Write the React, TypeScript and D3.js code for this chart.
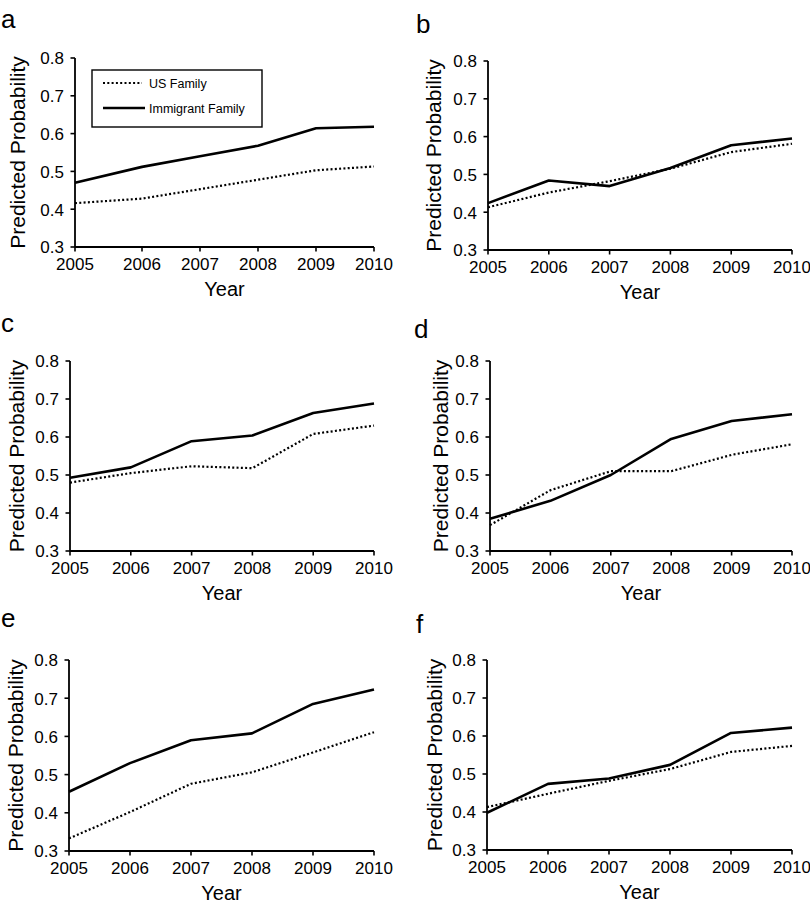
import React from "react";
import * as d3 from "d3";

// ---- data ----
const years = [2005, 2006, 2007, 2008, 2009, 2010];
const yTicks = [0.3, 0.4, 0.5, 0.6, 0.7, 0.8];
const seriesNames = ["US Family", "Immigrant Family"];

const usA = [0.416, 0.428, 0.453, 0.478, 0.503, 0.513];
const immA = [0.47, 0.512, 0.54, 0.568, 0.614, 0.618];
const usB = [0.413, 0.452, 0.482, 0.515, 0.559, 0.581];
const immB = [0.424, 0.484, 0.469, 0.517, 0.577, 0.595];
const usC = [0.48, 0.505, 0.523, 0.518, 0.608, 0.63];
const immC = [0.493, 0.52, 0.589, 0.604, 0.663, 0.688];
const usD = [0.368, 0.46, 0.51, 0.51, 0.553, 0.581];
const immD = [0.385, 0.432, 0.5, 0.595, 0.642, 0.66];
const usE = [0.333, 0.402, 0.476, 0.506, 0.558, 0.611];
const immE = [0.455, 0.53, 0.59, 0.608, 0.685, 0.723];
const usF = [0.413, 0.448, 0.482, 0.513, 0.558, 0.574];
const immF = [0.398, 0.474, 0.488, 0.524, 0.608, 0.622];

const panelLabels = ["a", "b", "c", "d", "e", "f"];
const usSeries = [usA, usB, usC, usD, usE, usF];
const immSeries = [immA, immB, immC, immD, immE, immF];

// ---- layout (pixels) ----
type Layout = {
  left: number; right: number; top: number; bottom: number;
  x2006?: number; labelX: number; labelY: number; yLabelOffset: number;
};
const layouts: Layout[] = [
  { left: 75, right: 374, top: 58, bottom: 247, x2006: 142, labelX: 1, labelY: 28, yLabelOffset: 50 },
  { left: 488, right: 792, top: 61, bottom: 250, labelX: 416, labelY: 33, yLabelOffset: 47 },
  { left: 70, right: 374, top: 361, bottom: 551, labelX: 1, labelY: 332, yLabelOffset: 46 },
  { left: 490, right: 792, top: 361, bottom: 551, labelX: 414, labelY: 338, yLabelOffset: 42 },
  { left: 69, right: 374, top: 660, bottom: 851, labelX: 1, labelY: 627, yLabelOffset: 46 },
  { left: 487, right: 792, top: 660, bottom: 850, labelX: 416, labelY: 633, yLabelOffset: 45 },
];

const FONT = "'Liberation Sans', Arial, sans-serif";
const DOT = "2 2.3";

function Panel({ idx }: { idx: number }) {
  const L = layouts[idx];
  const x = L.x2006 !== undefined
    ? d3.scaleLinear().domain([2005, 2006, 2010]).range([L.left, L.x2006, L.right])
    : d3.scaleLinear().domain([2005, 2010]).range([L.left, L.right]);
  const y = d3.scaleLinear().domain([0.3, 0.8]).range([L.bottom, L.top]);
  const line = d3.line<number>().x((_, i) => x(years[i])).y((v) => y(v));
  const tick = 4.5;
  return (
    <g>
      <text x={L.labelX} y={L.labelY} fontSize={26} fontFamily={FONT}>{panelLabels[idx]}</text>
      {/* y axis */}
      <line x1={L.left} x2={L.left} y1={y(0.8)} y2={L.bottom} stroke="#000" strokeWidth={1.8} />
      {yTicks.map((t) => (
        <g key={t}>
          <line x1={L.left - tick} x2={L.left} y1={y(t)} y2={y(t)} stroke="#000" strokeWidth={1.6} />
          <text x={L.left - 11} y={y(t)} dy="0.38em" textAnchor="end" fontSize={17} fontFamily={FONT}>
            {t.toFixed(1)}
          </text>
        </g>
      ))}
      {/* x axis */}
      <line x1={L.left} x2={L.right} y1={L.bottom} y2={L.bottom} stroke="#000" strokeWidth={1.8} />
      {years.map((yr) => (
        <g key={yr}>
          <line x1={x(yr)} x2={x(yr)} y1={L.bottom} y2={L.bottom + tick} stroke="#000" strokeWidth={1.6} />
          <text x={x(yr)} y={L.bottom + 23} textAnchor="middle" fontSize={17} fontFamily={FONT}>{yr}</text>
        </g>
      ))}
      <text x={(L.left + L.right) / 2} y={L.bottom + 49} textAnchor="middle" fontSize={20} fontFamily={FONT}>Year</text>
      <text
        transform={`translate(${L.left - L.yLabelOffset},${(L.top + L.bottom) / 2}) rotate(-90)`}
        textAnchor="middle" fontSize={21} fontFamily={FONT}
      >
        Predicted Probability
      </text>
      {/* series */}
      <path d={line(usSeries[idx]) || ""} fill="none" stroke="#000" strokeWidth={2.2} strokeDasharray={DOT} />
      <path d={line(immSeries[idx]) || ""} fill="none" stroke="#000" strokeWidth={2.6} strokeLinejoin="round" />
    </g>
  );
}

function Legend() {
  const bx = 92, by = 70, bw = 170, bh = 57;
  return (
    <g>
      <rect x={bx} y={by} width={bw} height={bh} fill="#fff" stroke="#000" strokeWidth={1.4} />
      <line x1={103} x2={142} y1={83} y2={83} stroke="#000" strokeWidth={2.2} strokeDasharray={DOT} />
      <text x={149} y={87.5} fontSize={12.5} fontFamily={FONT}>{seriesNames[0]}</text>
      <line x1={103} x2={145} y1={108} y2={108} stroke="#000" strokeWidth={2.6} />
      <text x={149} y={112.5} fontSize={12.5} fontFamily={FONT}>{seriesNames[1]}</text>
    </g>
  );
}

export default function App() {
  return (
    <svg width={810} height={907} style={{ position: "absolute", left: 0, top: 0, background: "#fff" }}>
      <rect width={810} height={907} fill="#fff" />
      {layouts.map((_, i) => <Panel key={i} idx={i} />)}
      <Legend />
    </svg>
  );
}
